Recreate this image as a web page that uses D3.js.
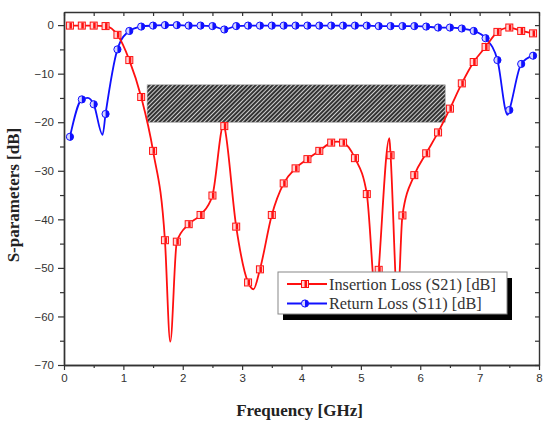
<!DOCTYPE html>
<html>
<head>
<meta charset="utf-8">
<script src="https://cdn.jsdelivr.net/npm/d3@7"></script>
<style>
  body { margin: 0; background: #fff; }
  svg { display: block; }
</style>
</head>
<body>
<figure style="margin:0"></figure>
<script>
// insertion loss S21, GHz / dB (markers sit on the 0.1 + 0.2k points)
const freqS21 = [0.1, 0.3, 0.5, 0.7, 0.9, 1.1, 1.3, 1.5, 1.7, 1.79, 1.9, 2.1, 2.3, 2.5, 2.69, 2.7, 2.9, 3.1, 3.19, 3.3, 3.5, 3.7, 3.9, 4.1, 4.3, 4.5, 4.6, 4.7, 4.9, 5.1, 5.26, 5.3, 5.48, 5.5, 5.62, 5.7, 5.9, 6.1, 6.3, 6.5, 6.7, 6.9, 7.1, 7.3, 7.5, 7.7, 7.9]
const s21 = [-0.1, -0.1, -0.1, -0.2, -2.0, -7.2, -14.8, -25.9, -44.3, -65.2, -44.6, -41.0, -39.1, -35.1, -20.4, -20.8, -41.5, -53.0, -54.4, -50.3, -39.1, -32.6, -29.5, -27.6, -25.9, -24.2, -24.0, -24.2, -27.4, -34.8, -57.0, -50.4, -23.3, -26.8, -57.0, -39.2, -30.9, -26.4, -22.1, -17.2, -12.0, -7.6, -4.5, -1.4, -0.5, -1.2, -1.7]

// return loss S11
const freqS11 = [0.1, 0.3, 0.4, 0.5, 0.65, 0.7, 0.9, 1.1, 1.3, 1.5, 1.7, 1.9, 2.1, 2.3, 2.5, 2.7, 2.9, 3.1, 3.3, 3.5, 3.7, 3.9, 4.1, 4.3, 4.5, 4.7, 4.9, 5.1, 5.3, 5.5, 5.7, 5.9, 6.1, 6.3, 6.5, 6.7, 6.9, 7.1, 7.3, 7.47, 7.5, 7.7, 7.9]
const s11 = [-23.0, -15.3, -15.0, -16.3, -22.6, -18.3, -5.0, -1.2, -0.3, -0.1, 0.0, 0.0, -0.1, -0.1, -0.2, -0.9, -0.2, -0.1, -0.1, -0.1, -0.1, -0.1, -0.1, -0.1, -0.1, -0.1, -0.1, -0.1, -0.2, -0.2, -0.2, -0.2, -0.3, -0.5, -0.5, -0.7, -1.2, -2.7, -7.2, -18.5, -17.5, -8.0, -6.3]

// shaded specification box
const bandFreq = [1.4, 6.42]
const bandDb = [-12.3, -20]

const xTicks = [0, 1, 2, 3, 4, 5, 6, 7, 8]
const yTicks = [0, -10, -20, -30, -40, -50, -60, -70]
const legendLabels = ['Insertion Loss (S21) [dB]', 'Return Loss (S11) [dB]']

const width = 546
const height = 432
const m = { left: 64, right: 7, top: 12, bottom: 67 }

const x = d3.scaleLinear().domain([0, 8]).range([m.left, width - m.right])
const y = d3.scaleLinear().domain([-70, 2.7]).range([height - m.bottom, m.top])

const svg = d3.select('figure').append('svg')
  .attr('width', width)
  .attr('height', height)

const defs = svg.append('defs')
defs.append('pattern')
  .attr('id', 'hatch')
  .attr('patternUnits', 'userSpaceOnUse')
  .attr('width', 3)
  .attr('height', 3)
  .attr('patternTransform', 'rotate(45)')
  .call(p => p.append('rect').attr('width', 3).attr('height', 3).attr('fill', '#cfcfcf'))
  .call(p => p.append('line').attr('x1', 1).attr('x2', 1).attr('y1', 0).attr('y2', 3)
    .attr('stroke', '#2a2a2a').attr('stroke-width', 1.9))

defs.append('clipPath').attr('id', 'plot')
  .append('rect')
  .attr('x', m.left).attr('y', m.top)
  .attr('width', width - m.left - m.right)
  .attr('height', height - m.top - m.bottom)

// hatched band
svg.append('rect')
  .attr('x', x(bandFreq[0]))
  .attr('y', y(bandDb[0]))
  .attr('width', x(bandFreq[1]) - x(bandFreq[0]))
  .attr('height', y(bandDb[1]) - y(bandDb[0]))
  .attr('fill', 'url(#hatch)')
  .attr('stroke', '#999')
  .attr('stroke-width', 0.6)

// axes
const axisFont = g => g.selectAll('text')
  .attr('font-family', 'Arial, "Liberation Sans", sans-serif')
  .attr('font-size', 11.5)
  .attr('fill', '#333')

const frame = g => {
  g.select('.domain').attr('stroke', '#333').attr('stroke-width', 1.4)
  g.selectAll('.tick line').attr('stroke', '#333').attr('stroke-width', 1.2)
}

const xMinor = d3.range(0.5, 8, 1)
const yMinor = d3.range(-65, 0, 10)

svg.append('g')
  .attr('transform', `translate(0,${y(-70)})`)
  .call(d3.axisBottom(x).tickValues(xTicks).tickSize(5).tickSizeOuter(0).tickPadding(4))
  .call(frame).call(axisFont)
svg.append('g')
  .attr('transform', `translate(0,${y(-70)})`)
  .call(d3.axisBottom(x).tickValues(xMinor).tickSize(3).tickFormat('').tickSizeOuter(0))
  .call(frame)

svg.append('g')
  .attr('transform', `translate(${m.left},0)`)
  .call(d3.axisLeft(y).tickValues(yTicks).tickSize(6).tickSizeOuter(0).tickPadding(4))
  .call(frame).call(axisFont)
svg.append('g')
  .attr('transform', `translate(${m.left},0)`)
  .call(d3.axisLeft(y).tickValues(yMinor).tickSize(4).tickFormat('').tickSizeOuter(0))
  .call(frame)

svg.append('g')
  .attr('transform', `translate(0,${m.top})`)
  .call(d3.axisTop(x).tickValues(xTicks.concat(xMinor)).tickSize(-4).tickFormat('').tickSizeOuter(0))
  .call(frame)
svg.append('g')
  .attr('transform', `translate(${width - m.right},0)`)
  .call(d3.axisRight(y).tickValues(yTicks.concat(yMinor)).tickSize(-4).tickFormat('').tickSizeOuter(0))
  .call(frame)

// curves
const onGrid = f => Math.abs((f - 0.1) / 0.2 - Math.round((f - 0.1) / 0.2)) < 1e-6

const line = d3.line()
  .x(d => x(d[0]))
  .y(d => y(d[1]))
  .curve(d3.curveMonotoneX)

const redPts = freqS21.map((f, i) => [f, s21[i]])
const bluePts = freqS11.map((f, i) => [f, s11[i]])

const plot = svg.append('g').attr('clip-path', 'url(#plot)')

const squareMark = (sel, c) => {
  sel.append('rect').attr('x', -3.5).attr('y', -3.5).attr('width', 7).attr('height', 7)
    .attr('fill', '#ffd6d6').attr('stroke', c).attr('stroke-width', 1)
  sel.append('rect').attr('x', -0.5).attr('y', -3).attr('width', 2.5).attr('height', 6)
    .attr('fill', c)
}
const circleMark = (sel, c) => {
  sel.append('circle').attr('r', 3.6).attr('fill', '#d6d6ff').attr('stroke', c).attr('stroke-width', 1)
  sel.append('path').attr('d', d3.arc()({ innerRadius: 0, outerRadius: 3.6, startAngle: 0, endAngle: Math.PI }))
    .attr('fill', c)
}

plot.append('path')
  .attr('d', line(bluePts))
  .attr('fill', 'none').attr('stroke', '#1010ff').attr('stroke-width', 1.8)
plot.append('g').selectAll('g')
  .data(bluePts.filter(d => onGrid(d[0])))
  .join('g')
  .attr('transform', d => `translate(${x(d[0])},${y(d[1])})`)
  .each(function () { circleMark(d3.select(this), '#1010ff') })

plot.append('path')
  .attr('d', line(redPts))
  .attr('fill', 'none').attr('stroke', '#ff1010').attr('stroke-width', 1.8)
plot.append('g').selectAll('g')
  .data(redPts.filter(d => onGrid(d[0])))
  .join('g')
  .attr('transform', d => `translate(${x(d[0])},${y(d[1])})`)
  .each(function () { squareMark(d3.select(this), '#ff1010') })

// legend
const legend = svg.append('g').attr('transform', 'translate(278,272)')
legend.append('rect').attr('x', 5).attr('y', 6).attr('width', 229).attr('height', 42).attr('fill', '#000')
legend.append('rect').attr('width', 229).attr('height', 42).attr('fill', '#fff')
  .attr('stroke', '#888').attr('stroke-width', 1)

const colors = ['#ff1010', '#1010ff']
const marks = [squareMark, circleMark]
legendLabels.forEach((label, i) => {
  const row = legend.append('g').attr('transform', `translate(0,${12 + i * 19.5})`)
  row.append('line').attr('x1', 9).attr('x2', 49).attr('stroke', colors[i]).attr('stroke-width', 1.8)
  marks[i](row.append('g').attr('transform', 'translate(27,0)'), colors[i])
  row.append('text')
    .attr('x', 51).attr('y', 5.5)
    .attr('font-family', '"Liberation Serif", "Times New Roman", serif')
    .attr('font-size', 16.3)
    .attr('fill', '#333')
    .text(label)
})

// axis titles
svg.append('text')
  .attr('x', (x(0) + x(8)) / 2 - 2)
  .attr('y', 416)
  .attr('text-anchor', 'middle')
  .attr('font-family', '"Liberation Serif", "Times New Roman", serif')
  .attr('font-weight', 'bold')
  .attr('font-size', 17)
  .attr('fill', '#222')
  .text('Frequency [GHz]')

svg.append('text')
  .attr('transform', `translate(19,${(y(0) + y(-70)) / 2}) rotate(-90)`)
  .attr('text-anchor', 'middle')
  .attr('font-family', '"Liberation Serif", "Times New Roman", serif')
  .attr('font-weight', 'bold')
  .attr('font-size', 17)
  .attr('fill', '#222')
  .text('S-parameters [dB]')
</script>
</body>
</html>
